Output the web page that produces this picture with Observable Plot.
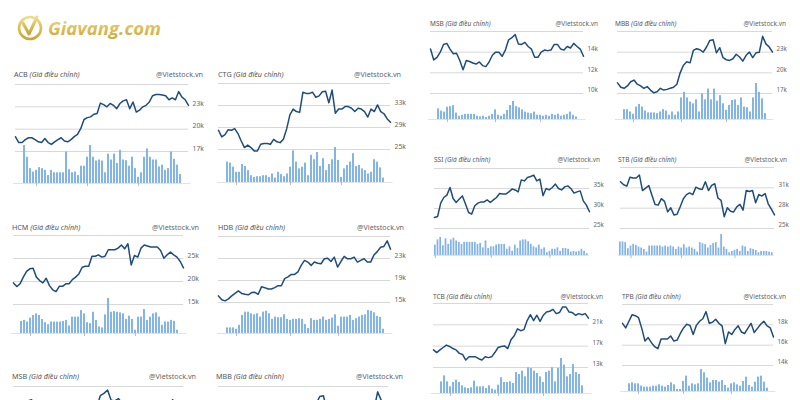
<!DOCTYPE html>
<html><head><meta charset="utf-8">
<script src="https://cdn.jsdelivr.net/npm/d3@7"></script>
<script src="https://cdn.jsdelivr.net/npm/@observablehq/plot@0.6"></script>
<style>
body{margin:0;background:#fff;}
#page{position:relative;width:800px;height:400px;overflow:hidden;background:#fff;font-family:"Noto Sans",sans-serif;}
.ttl,.wm{position:absolute;white-space:nowrap;line-height:1;color:#555;}
.ttl i{font-style:italic;}
.wm{color:#666;}
</style></head>
<body><div id="page"></div>
<script>
// ---------- data ----------
const acbPrice = [18.98,18.2,18.2,18.6,18.85,18.85,18.6,18.3,18.2,18.75,18.2,17.95,18.3,18.6,18.85,18.4,18.3,18.6,19.0,19.3,20.1,21.3,21.55,21.65,22.0,22.1,23.5,23.3,23.0,23.45,23.2,22.75,23.45,23.8,23.95,22.75,23.65,22.3,22.55,23.0,23.2,23.65,24.5,24.65,24.65,24.6,24.5,23.95,24.2,23.95,25.05,24.3,23.95,23.2];
const acbVolume = [110,76,43,33,38,46,43,38,23,38,31,31,31,31,91,40,31,33,23,50,50,76,110,76,65,68,65,31,85,68,85,58,96,68,66,50,76,43,18,31,76,100,76,68,68,48,53,38,43,91,70,53,26];
const acbGrid = [17,20,23,26];
const acbDates = [4,21,38];

const ctgPrice = [28.5,27.3,27.7,28.6,28.5,28.8,27.9,26.55,25.35,25.8,25.35,24.75,24.75,25.95,26.1,26.1,25.95,26.85,26.4,26.25,26.85,28.75,31.3,32.35,31.9,31.75,35.4,35.2,35.2,35.4,34.5,34.75,35.5,35.6,33.5,35.8,31.6,32.35,32.35,32.8,32.8,32.5,31.9,32.5,32.35,31.9,30.9,32.35,31.9,33.1,31.9,31.5,30.55,29.95];
const ctgVolume = [60,57,45,30,30,53,47,35,20,15,17,17,20,20,15,25,13,30,23,17,25,45,93,60,40,45,57,20,80,67,88,47,70,35,53,67,103,65,15,40,50,60,85,47,50,40,35,25,30,67,60,43,13];
const ctgGrid = [25,29,33,37];
const ctgDates = [3,21,38];

const hcmPrice = [19.7,18.9,19.5,20.95,22.2,22.75,22.9,20.95,20.2,19.7,20.7,19.1,18.2,17.8,18.95,18.95,19.5,19.5,20.4,20.95,21.65,23.1,23.3,23.3,25.5,25.5,25.8,25.3,25.5,26.9,26.9,26.9,27.25,27.95,27.1,28.2,23.6,25.65,25.3,27.25,27.95,27.7,27.5,27.5,27.5,26.75,25.05,25.8,26.4,25.8,25.3,24.35,22.95];
const hcmVolume = [37,40,35,47,55,60,55,43,33,27,35,35,35,35,37,40,23,50,50,50,70,60,33,30,65,40,20,17,57,107,65,67,65,63,60,43,53,43,10,50,50,73,40,50,60,63,50,25,35,35,40,37,10];
const hcmGrid = [15,20,25,30];
const hcmDates = [3,21,38];

const hdbPrice = [16.2,15.5,15.3,15.65,16.2,16.65,17.1,16.65,16.5,16.4,16.8,16.85,16.5,17.85,17.7,17.45,17.45,17.7,18.05,18.05,19.35,19.65,20.1,20.1,20.55,21.75,22.65,22.35,21.75,22.35,22.15,22.05,22.95,23.05,22.45,23.25,21.45,22.45,23.4,22.95,22.95,23.25,22.35,22.65,22.95,22.35,22.35,23.65,24.25,25.05,25.2,26.2,24.7];
const hdbVolume = [17,17,17,13,25,55,65,65,60,57,60,50,65,68,60,43,50,48,48,57,43,40,43,43,45,43,27,15,45,40,40,43,50,40,43,47,57,22,50,50,50,55,40,45,50,55,57,70,68,63,52,49,13];
const hdbGrid = [15,19,23,27];
const hdbDates = [3,21,37];

const msbPrice = [14.3,13.25,13.5,14.0,14.75,14.85,14.3,13.85,13.9,13.2,12.3,13.2,13.1,12.95,12.85,13.05,12.7,12.6,13.05,13.7,14.0,14.0,13.6,14.2,15.2,15.4,15.7,14.8,14.75,14.95,14.55,14.3,13.5,13.5,14.0,14.2,14.15,14.2,14.75,14.75,14.3,14.2,14.55,14.4,14.85,14.55,14.3,13.6];
const msbVolume = [33,26,23,38,40,43,20,10,13,16,16,16,16,10,8,10,6,10,16,30,13,10,16,28,43,56,40,36,30,23,20,18,23,13,13,10,13,10,16,13,16,10,13,16,23,13,8];
const msbGrid = [10,12,14,16];
const msbDates = [3,19,34];

const mbbPrice = [18.55,17.9,17.75,18.1,18.7,18.95,18.35,18.1,17.75,18.0,17.5,17.1,17.25,17.75,17.5,17.6,17.75,17.9,18.35,20.0,21.1,21.6,21.45,23.25,23.5,23.35,23.0,23.75,24.7,24.8,22.9,23.65,22.2,21.9,21.8,22.05,22.7,22.3,21.7,22.55,23.0,22.2,22.9,23.0,25.3,24.2,23.75,23.0];
const mbbVolume = [30,30,23,16,38,46,38,26,20,20,20,18,23,30,26,13,23,13,23,66,83,66,53,48,60,23,78,60,93,60,93,56,73,48,28,43,58,60,43,66,38,36,23,66,110,83,63,18];
const mbbGrid = [17,20,23,26];
const mbbDates = [3,19,34];

const ssiPrice = [27.75,28.0,31.35,32.75,33.35,35.25,32.5,31.5,32.35,33.15,31.1,29.0,28.6,30.7,31.35,31.65,31.65,32.15,31.5,32.15,32.75,33.75,33.6,33.6,34.15,34.85,34.65,34.15,37.15,36.9,37.75,38.0,38.35,36.9,37.35,33.2,35.0,34.65,35.25,36.1,35.0,34.65,35.4,35.65,35.0,33.85,34.15,34.4,31.9,30.85,29.2];
const ssiVolume = [30,45,52,28,48,32,45,50,42,38,32,38,38,38,38,38,32,35,22,42,20,25,25,30,32,32,32,18,25,12,30,20,42,45,45,40,32,25,22,30,18,22,8,12,18,18,22,12,20,20,18,10,12,10,12,18,12,5];
const ssiGrid = [25,30,35,40];
const ssiDates = [0,21,43];

const stbPrice = [31.9,31.45,31.25,32.55,32.45,32.45,32.9,30.6,30.95,31.35,29.9,28.55,28.45,29.4,29.0,27.45,28.05,27.0,27.1,28.2,29.4,30.0,30.25,30.0,31.1,30.85,30.75,31.9,30.6,31.35,31.6,29.5,29.15,26.75,28.05,27.55,27.45,28.2,28.55,27.7,30.6,30.45,30.6,28.8,30.0,29.8,30.15,28.65,27.85,27.0];
const stbVolume = [40,40,38,20,28,33,30,25,22,18,10,28,28,28,28,28,25,28,25,28,25,18,25,22,32,22,25,22,18,10,38,35,32,22,30,35,38,22,62,25,18,8,12,15,18,12,28,25,12,20,18,15,8,12,12,12,10,8];
const stbGrid = [25,28,31,34];
const stbDates = [4,23,43];

const tcbPrice = [16.3,15.8,16.3,16.75,17.2,16.95,16.55,16.3,15.65,15.45,14.4,15.0,15.0,15.0,14.65,14.4,15.0,14.85,15.0,15.8,16.75,16.95,17.05,16.55,18.2,18.95,20.25,19.9,20.1,21.8,22.9,21.8,22.8,21.65,22.8,23.4,23.55,23.9,23.1,23.3,24.35,24.35,23.4,23.3,22.8,23.1,22.9,23.1,22.25];
const tcbVolume = [35,53,35,20,33,40,33,23,17,15,17,37,20,20,20,15,23,13,10,25,47,33,33,35,30,63,57,67,50,77,75,67,60,50,33,63,67,77,35,75,105,85,50,57,87,63,57,23];
const tcbGrid = [13,17,21,25];
const tcbDates = [3,19,34];

const tpbPrice = [18.15,17.7,18.35,19.0,18.9,18.7,17.65,16.4,16.75,16.25,15.85,15.65,16.6,16.6,16.6,16.9,16.4,16.5,17.15,17.7,18.05,17.95,17.05,17.95,18.35,18.6,19.3,18.15,18.25,18.55,18.15,17.9,16.15,17.3,17.05,17.55,17.9,17.3,17.15,17.65,18.15,17.25,17.65,18.05,18.35,17.9,17.7,16.8];
const tpbVolume = [23,26,23,23,16,13,13,13,16,16,20,16,13,18,26,20,6,6,30,46,16,23,20,23,66,56,40,26,33,33,28,33,18,10,23,26,20,16,30,43,18,13,28,43,46,28,10];
const tpbGrid = [14,16,18,20];
const tpbDates = [3,18,34];

const subtitle = "(Giá điều chỉnh)";
const source = "@Vietstock.vn";

// ---------- layout ----------
const PAGE_H = 400;
const L = {title: 7.2, label: 6.8};
const R = {title: 6.5, label: 6.2};
const panels = [
  {name:"ACB", price:acbPrice, volume:acbVolume, grid:acbGrid, dates:acbDates, x0:15, x1:188, topY:84, lowY:151, v0:15, v1:188, volTop:145, volBottom:183, titleX:14, titleY:75, wmRight:203, f:L},
  {name:"CTG", price:ctgPrice, volume:ctgVolume, grid:ctgGrid, dates:ctgDates, x0:218, x1:390, topY:83, lowY:149, v0:219, v1:390, volTop:147, volBottom:182, titleX:218, titleY:75, wmRight:401, f:L},
  {name:"HCM", price:hcmPrice, volume:hcmVolume, grid:hcmGrid, dates:hcmDates, x0:13, x1:183, topY:235, lowY:304, v0:13, v1:184, volTop:298, volBottom:333, titleX:12, titleY:228, wmRight:199, f:L},
  {name:"HDB", price:hdbPrice, volume:hdbVolume, grid:hdbGrid, dates:hdbDates, x0:218, x1:390, topY:236, lowY:302, v0:219, v1:390, volTop:310, volBottom:333, titleX:218, titleY:228, wmRight:404, f:L},
  {name:"MSB", price:msbPrice, volume:msbVolume, grid:msbGrid, dates:msbDates, x0:13, x1:183, topY:386, lowY:455, v0:13, v1:184, volTop:449, volBottom:484, titleX:12, titleY:377, wmRight:196, f:L},
  {name:"MBB", price:mbbPrice, volume:mbbVolume, grid:mbbGrid, dates:mbbDates, x0:218, x1:388, topY:386, lowY:455, v0:219, v1:388, volTop:449, volBottom:484, titleX:216, titleY:377, wmRight:403, f:L},
  {name:"MSB", price:msbPrice, volume:msbVolume, grid:msbGrid, dates:msbDates, x0:430, x1:583, topY:31, lowY:93, v0:430, v1:583, volTop:101, volBottom:119, titleX:430, titleY:24, wmRight:598, f:R},
  {name:"MBB", price:mbbPrice, volume:mbbVolume, grid:mbbGrid, dates:mbbDates, x0:617, x1:772, topY:31, lowY:93, v0:617, v1:771, volTop:83, volBottom:119, titleX:615, titleY:24, wmRight:786, f:R},
  {name:"SSI", price:ssiPrice, volume:ssiVolume, grid:ssiGrid, dates:ssiDates, x0:434, x1:589, topY:168, lowY:228, v0:435, v1:587, volTop:237, volBottom:255, titleX:434, titleY:160, wmRight:600, f:R},
  {name:"STB", price:stbPrice, volume:stbVolume, grid:stbGrid, dates:stbDates, x0:620, x1:774, topY:167, lowY:228, v0:620, v1:772, volTop:234, volBottom:255, titleX:618, titleY:160, wmRight:787, f:R},
  {name:"TCB", price:tcbPrice, volume:tcbVolume, grid:tcbGrid, dates:tcbDates, x0:433, x1:588, topY:303, lowY:367, v0:433, v1:589, volTop:358, volBottom:393, titleX:433, titleY:297, wmRight:603, f:R},
  {name:"TPB", price:tpbPrice, volume:tpbVolume, grid:tpbGrid, dates:tpbDates, x0:622, x1:773, topY:304, lowY:365, v0:622, v1:773, volTop:369, volBottom:391, titleX:622, titleY:297, wmRight:786, f:R}
];

const page = document.getElementById("page");
const LINE = "#1f4d7b", BAR = "#84b4e2", GRID = "#d8d8d8";

function place(el, left, top) {
  el.style.position = "absolute";
  el.style.left = left + "px";
  el.style.top = top + "px";
  el.style.overflow = "visible";
  page.appendChild(el);
}

function drawPanel(p) {
  const mt = 6, mb = 6, labelW = 24;
  const n = p.price.length;
  const lo = p.grid[0], hi = p.grid[p.grid.length - 1];
  // labels only for gridlines that fall inside the visible page
  const labelled = p.grid.slice(0, -1).filter(v => p.topY + (hi - v) / (hi - lo) * (p.lowY - p.topY) < PAGE_H - 8);
  const priceSvg = Plot.plot({
    width: (p.x1 - p.x0) + labelW,
    height: (p.lowY - p.topY) + mt + mb,
    marginTop: mt, marginBottom: mb, marginLeft: 0, marginRight: labelW,
    style: {background: "transparent", fontFamily: "'Noto Sans', sans-serif"},
    x: {domain: [0, n - 1], axis: null},
    y: {domain: [lo, hi], axis: null},
    marks: [
      Plot.ruleY(p.grid, {stroke: GRID, strokeWidth: 1}),
      Plot.text(labelled, {y: d => d, text: d => d + "k", frameAnchor: "right", textAnchor: "start", dx: 4, dy: -3, fill: "#666", fontSize: p.f.label}),
      Plot.line(p.price, {x: (d, i) => i, y: d => d, stroke: LINE, strokeWidth: 1.5, strokeLinejoin: "round"})
    ]
  });
  place(priceSvg, p.x0, p.topY - mt);

  const m = p.volume.length, pad = 0.35, tickH = 4;
  const step = (p.v1 - p.v0) / (m - 1);
  const vw = step * (m + pad);
  const vLeft = p.v0 - step * (1 + pad) / 2;
  const volSvg = Plot.plot({
    width: vw,
    height: (p.volBottom - p.volTop) + tickH,
    marginTop: 0, marginBottom: tickH, marginLeft: 0, marginRight: 0,
    style: {background: "transparent"},
    x: {type: "band", domain: d3.range(m), padding: pad, axis: null},
    y: {domain: [0, d3.max(p.volume)], axis: null},
    marks: [
      Plot.barY(p.volume, {x: (d, i) => i, y: d => d, fill: BAR}),
      Plot.ruleY([0], {stroke: "#e2e2e2"}),
      Plot.axisX({ticks: p.dates, tickSize: 3, tickFormat: () => "", stroke: "#bbb"})
    ]
  });
  place(volSvg, vLeft, p.volTop);

  const t = document.createElement("div");
  t.className = "ttl";
  t.style.fontSize = p.f.title + "px";
  t.innerHTML = p.name + " <i>" + subtitle + "</i>";
  place(t, p.titleX, p.titleY - p.f.title / 2);
  const w = document.createElement("div");
  w.className = "wm";
  w.style.fontSize = p.f.title + "px";
  w.textContent = source;
  w.style.position = "absolute";
  w.style.right = (800 - p.wmRight) + "px";
  w.style.top = (p.titleY - p.f.title / 2) + "px";
  page.appendChild(w);
}

panels.forEach(drawPanel);

// ---------- logo ----------
const logo = document.createElementNS("http://www.w3.org/2000/svg", "svg");
logo.setAttribute("width", 200);
logo.setAttribute("height", 60);
logo.innerHTML = `
<defs><linearGradient id="gold" x1="0" y1="0" x2="0" y2="1">
<stop offset="0" stop-color="#f0dd8c"/><stop offset="0.5" stop-color="#dcbf55"/><stop offset="1" stop-color="#c9a53a"/></linearGradient></defs>
<circle cx="30" cy="28" r="11" fill="none" stroke="url(#gold)" stroke-width="2.6"/>
<path d="M23 23 L29 34 L37 17" fill="none" stroke="url(#gold)" stroke-width="3" stroke-linecap="round" stroke-linejoin="round"/>
<text x="48" y="35" font-family="'Open Sans', 'DejaVu Sans', sans-serif" font-weight="700" font-style="italic" font-size="17" fill="url(#gold)" textLength="113" lengthAdjust="spacingAndGlyphs">Giavang.com</text>`;
place(logo, 0, 0);
</script>
</body></html>
